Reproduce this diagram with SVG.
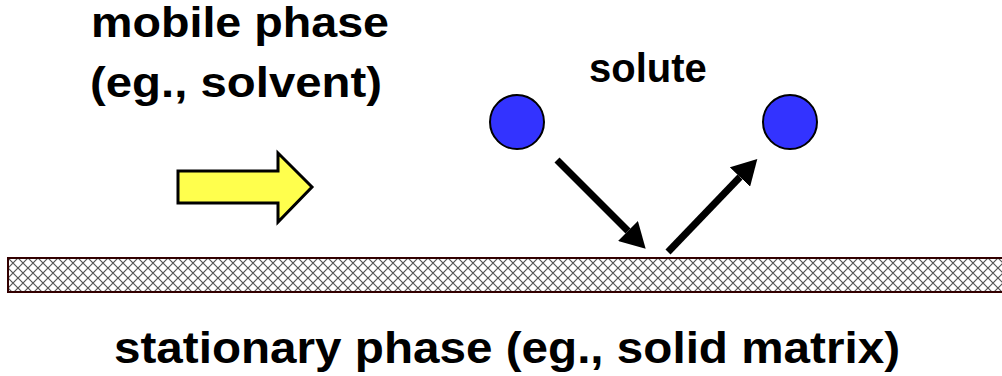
<svg xmlns="http://www.w3.org/2000/svg" width="1002" height="376" viewBox="0 0 1002 376">
  <style>
    .lbl { font-family: "Liberation Sans", Arial, sans-serif; font-weight: bold; fill: #000; }
    .ball { fill: #3333ff; stroke: #000; stroke-width: 2; }
    .conn { stroke: #000; stroke-width: 7; fill: none; }
  </style>
  <defs>
    <pattern id="hatch" patternUnits="userSpaceOnUse" width="10" height="10" x="8" y="258">
      <rect width="10" height="10" fill="#fff"/>
      <path d="M0,0 L10,10 M10,0 L0,10" stroke="#555" stroke-width="1.2"/>
    </pattern>
    <marker id="head" markerUnits="userSpaceOnUse" markerWidth="26" markerHeight="28" refX="0" refY="14" orient="auto">
      <path d="M0,0 L25,14 L0,28 z" fill="#000"/>
    </marker>
  </defs>
  <rect width="1002" height="376" fill="#fff"/>

  <g id="mobile-phase-label">
    <text class="lbl" x="91" y="37" font-size="42" textLength="298" lengthAdjust="spacingAndGlyphs">mobile phase</text>
    <text class="lbl" x="90" y="97" font-size="42" textLength="292" lengthAdjust="spacingAndGlyphs">(eg., solvent)</text>
  </g>

  <g id="flow-arrow">
    <polygon points="178,171 278,171 278,153 312,187 278,222 278,203 178,203" fill="#ffff4d" stroke="#000" stroke-width="3" stroke-linejoin="miter"/>
  </g>

  <g id="solute-label">
    <text class="lbl" x="589" y="82" font-size="40">solute</text>
  </g>

  <g id="solute-before">
    <circle class="ball" cx="517" cy="122" r="27"/>
  </g>
  <g id="solute-after">
    <circle class="ball" cx="790" cy="122" r="27"/>
  </g>

  <g id="stationary-phase">
    <rect x="8" y="258" width="1000" height="34" fill="url(#hatch)" stroke="#300" stroke-width="2"/>
  </g>

  <g id="stationary-phase-label">
    <text class="lbl" x="114" y="363" font-size="44" textLength="786" lengthAdjust="spacingAndGlyphs">stationary phase (eg., solid matrix)</text>
  </g>

  <g id="connectors">
    <line class="conn" x1="557" y1="160" x2="628" y2="231" marker-end="url(#head)"/>
    <line class="conn" x1="668" y1="252" x2="740" y2="177" marker-end="url(#head)"/>
  </g>
</svg>
